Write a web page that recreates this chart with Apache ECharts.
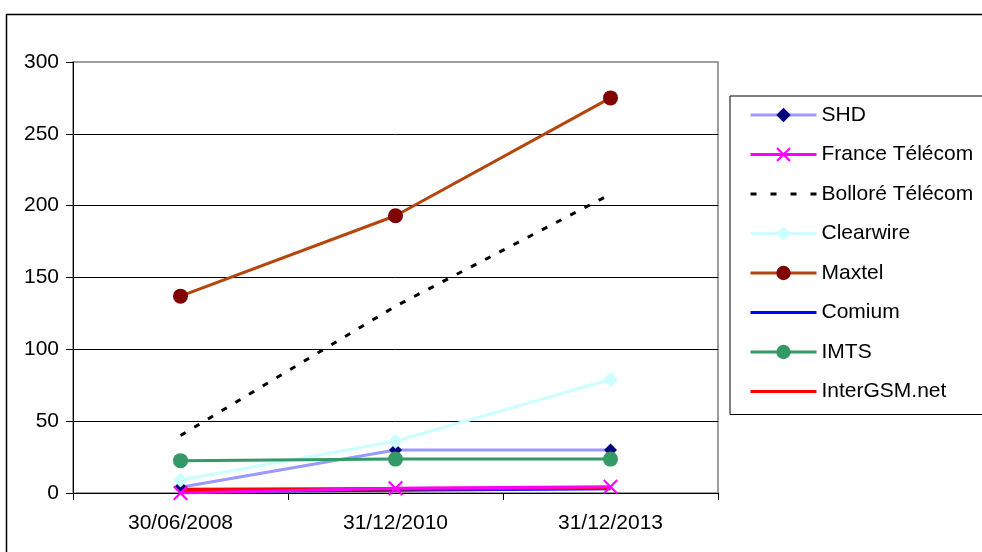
<!DOCTYPE html>
<html>
<head>
<meta charset="utf-8">
<script src="https://cdn.jsdelivr.net/npm/echarts@6/dist/echarts.min.js"></script>
<style>html,body{margin:0;padding:0;background:#fff}#c{width:982px;height:552px}</style>
</head>
<body>
<div id="c"></div>
<script>
var categories = ['30/06/2008', '31/12/2010', '31/12/2013'];
var yTicks = [0, 50, 100, 150, 200, 250, 300];
var seriesNames = ['SHD', 'France Télécom', 'Bolloré Télécom', 'Clearwire', 'Maxtel', 'Comium', 'IMTS', 'InterGSM.net'];
var shd = [4, 30, 30];
var franceTelecom = [0, 3.3, 4.4];
var bollore = [40, 130, 208];
var clearwire = [9, 36, 79];
var maxtel = [137, 193, 275];
var comium = [1, 2, 3];
var imts = [22.5, 23.6, 23.6];
var interGSM = [2.5, 3, 3.5];

var xPath = 'path://M10,0L50,40L90,0L100,10L60,50L100,90L90,100L50,60L10,100L0,90L40,50L0,10Z';
var solidIcon = 'path://M0,0H66V3H0Z';
var dashIcon = 'path://M0,0H6V3H0Z M20,0H26V3H20Z M40,0H46V3H40Z M60,0H66V3H60Z';
var font = 'Liberation Sans, Arial, sans-serif';

var chart = echarts.init(document.getElementById('c'));
chart.setOption({
  animation: false,
  backgroundColor: '#fff',
  graphic: [{
    type: 'rect', left: 4, top: 12, silent: true,
    shape: {x: 0, y: 0, width: 1100, height: 700},
    style: {fill: 'none', stroke: '#000', lineWidth: 1.5}
  }],
  grid: {left: 73, right: 264, top: 62, bottom: 59, show: true, borderColor: '#808080', borderWidth: 1.5, backgroundColor: 'transparent'},
  legend: {
    orient: 'vertical', left: 730, top: 96,
    padding: [7, 12, 11, 19],
    itemWidth: 66, itemHeight: 18, itemGap: 15.5,
    borderColor: '#000', borderWidth: 1,
    selectedMode: false,
    lineStyle: {width: 3},
    textStyle: {fontFamily: font, fontSize: 21, color: '#000', lineHeight: 24},
    data: [
      {name: seriesNames[0]},
      {name: seriesNames[1]},
      {name: seriesNames[2], icon: dashIcon},
      {name: seriesNames[3]},
      {name: seriesNames[4]},
      {name: seriesNames[5], icon: solidIcon},
      {name: seriesNames[6]},
      {name: seriesNames[7], icon: solidIcon}
    ]
  },
  xAxis: {
    type: 'category', data: categories, boundaryGap: true,
    axisLine: {lineStyle: {color: '#000', width: 1}},
    axisTick: {show: true, length: 7, alignWithLabel: false, lineStyle: {color: '#000'}},
    axisLabel: {fontFamily: font, fontSize: 21, color: '#000', margin: 20}
  },
  yAxis: {
    type: 'value', min: yTicks[0], max: yTicks[yTicks.length - 1], interval: 50,
    axisLine: {show: true, lineStyle: {color: '#000', width: 1}},
    axisTick: {show: true, length: 7, lineStyle: {color: '#000'}},
    axisLabel: {fontFamily: font, fontSize: 21, color: '#000', margin: 14},
    splitLine: {show: true, showMaxLine: false, lineStyle: {color: '#000', width: 1}}
  },
  series: [
    {name: seriesNames[0], type: 'line', data: shd, symbol: 'diamond', symbolSize: 13,
     lineStyle: {color: '#9999ff', width: 3}, itemStyle: {color: '#000080'}},
    {name: seriesNames[1], type: 'line', data: franceTelecom, symbol: xPath, symbolSize: 15, z: 5,
     lineStyle: {color: '#ff00ff', width: 3}, itemStyle: {color: '#ff00ff'}},
    {name: seriesNames[2], type: 'line', data: bollore, symbol: 'none',
     lineStyle: {color: '#000', width: 3, type: [6, 10]}, itemStyle: {color: '#000'}},
    {name: seriesNames[3], type: 'line', data: clearwire, symbol: 'diamond', symbolSize: 15,
     lineStyle: {color: '#ccffff', width: 3}, itemStyle: {color: '#ccffff'}},
    {name: seriesNames[4], type: 'line', data: maxtel, symbol: 'circle', symbolSize: 15,
     lineStyle: {color: '#b4450d', width: 3}, itemStyle: {color: '#800000'}},
    {name: seriesNames[5], type: 'line', data: comium, symbol: 'none',
     lineStyle: {color: '#0000ff', width: 3}, itemStyle: {color: '#0000ff'}},
    {name: seriesNames[6], type: 'line', data: imts, symbol: 'circle', symbolSize: 15,
     lineStyle: {color: '#339966', width: 3}, itemStyle: {color: '#339966'}},
    {name: seriesNames[7], type: 'line', data: interGSM, symbol: 'none',
     lineStyle: {color: '#ff0000', width: 3.5}, itemStyle: {color: '#ff0000'}}
  ]
});
</script>
</body>
</html>
